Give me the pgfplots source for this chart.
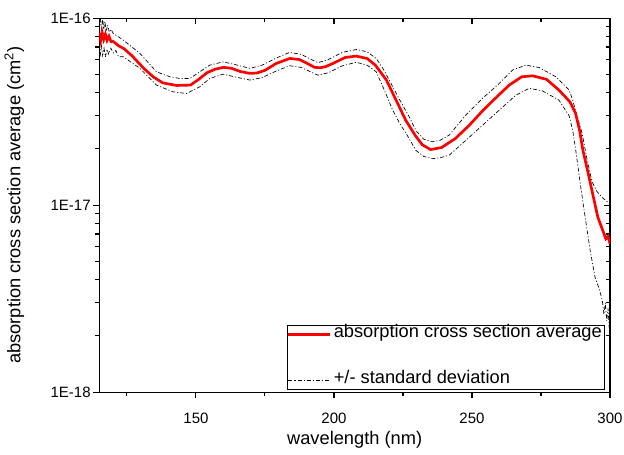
\documentclass[border=0pt]{standalone}
\usepackage{pgfplots}
\pgfplotsset{compat=1.18}
\usepackage{fontspec}
\setmainfont{Liberation Sans}
\begin{document}
\begin{tikzpicture}
\useasboundingbox (-74.5pt,-46.5pt) rectangle (393.5pt,294pt);
\begin{axis}[
  scale only axis, width=383pt, height=280.5pt,
  ymode=log, xmin=115, xmax=300, ymin=1e-18, ymax=1e-16,
  xtick={150,200,250,300}, minor xtick={125,175,225,275},
  ytick={1e-18,1e-17,1e-16},
  minor ytick={2e-18,3e-18,4e-18,5e-18,6e-18,7e-18,8e-18,9e-18,2e-17,3e-17,4e-17,5e-17,6e-17,7e-17,8e-17,9e-17},
  axis line style={line width=0.8pt},
  major tick length=4.5pt, minor tick length=3pt,
  every tick/.style={black, line width=0.8pt},
  tick align=inside, xtick pos=right, ytick pos=right,
  xticklabels={}, yticklabels={}]
\end{axis}
\begin{axis}[
  scale only axis, width=383pt, height=280.5pt,
  ymode=log, xmin=115, xmax=300, ymin=1e-18, ymax=1e-16,
  xtick={150,200,250,300}, minor xtick={125,175,225,275},
  ytick={1e-18,1e-17,1e-16},
  minor ytick={2e-18,3e-18,4e-18,5e-18,6e-18,7e-18,8e-18,9e-18,2e-17,3e-17,4e-17,5e-17,6e-17,7e-17,8e-17,9e-17},
  axis line style={line width=0.8pt},
  major tick length=4.5pt, minor tick length=3pt,
  every tick/.style={black, line width=0.8pt},
  tick align=outside, xtick pos=left, ytick pos=left,
  xticklabels={150,200,250,300},
  yticklabels={1E-18,1E-17,1E-16},
  ticklabel style={font=\fontsize{11.25}{13}\selectfont},
  xticklabel style={yshift=-7.5pt},
  yticklabel style={xshift=1.5pt},
  xlabel={wavelength (nm)},
  ylabel={absorption cross section average (cm\textsuperscript{2})},
  label style={font=\fontsize{13.7}{16}\selectfont},
  xlabel style={at={(axis description cs:0.5,-0.128)}, anchor=center},
  ylabel style={at={(axis description cs:-0.1664,0.5)}, anchor=center},
  legend cell align=left,
  reverse legend,
  legend style={at={(0.99,0.005)}, anchor=south east, draw=black, line width=0.6pt,
    font=\fontsize{13.7}{16}\selectfont, inner xsep=0pt, inner ysep=0pt, row sep=20.5pt,
    nodes={inner sep=2pt, text depth=0.25em, text height=0.75em}},
  legend image code/.code={\draw[#1] (0pt,0pt) -- (31pt,0pt);},
]
\addplot[black, line width=0.5pt, dash pattern=on 3pt off 1.5pt on 0.8pt off 1.5pt] table {
115 8.8e-17
115.4 9.9e-17
115.8 8.6e-17
116.2 1.0e-16
116.6 8.7e-17
117 9.6e-17
117.5 8.5e-17
118 9.2e-17
118.6 8.4e-17
119.3 8.7e-17
120 8.28e-17
123.7 7.62e-17
129.7 6.47e-17
135.7 5.16e-17
140.6 4.85e-17
144.2 4.75e-17
147.8 4.75e-17
151.4 5.16e-17
155 5.6e-17
159.8 5.83e-17
164 5.65e-17
169.5 5.38e-17
174 5.6e-17
179 6.1e-17
183.9 6.55e-17
188 6.4e-17
194.2 5.77e-17
198 6.0e-17
203 6.55e-17
208.1 6.79e-17
212 6.6e-17
215.3 6.08e-17
218 5.3e-17
221.3 4.29e-17
224.5 3.5e-17
227.3 2.96e-17
229.7 2.5e-17
232.5 2.25e-17
235.8 2.18e-17
238.5 2.22e-17
241.8 2.37e-17
247.8 3.03e-17
253.8 3.72e-17
259.9 4.47e-17
264.7 5.27e-17
269.5 5.6e-17
274.3 5.44e-17
280.4 4.85e-17
285.2 4.12e-17
286.5 3.64e-17
288 3.0e-17
289.9 2.42e-17
291.7 1.75e-17
293.5 1.33e-17
295.3 1.18e-17
297.1 1.10e-17
298.7 1.05e-17
300 1.02e-17
};
\addplot[black, line width=0.5pt, dash pattern=on 3pt off 1.5pt on 0.8pt off 1.5pt, forget plot] table {
115 7.3e-17
115.4 6.4e-17
115.8 7.1e-17
116.2 6.3e-17
116.7 6.9e-17
117.2 6.2e-17
117.8 6.8e-17
118.4 6.4e-17
119.2 6.9e-17
120.1 6.5e-17
121 6.7e-17
122 6.2e-17
123.7 6.21e-17
129.7 5.38e-17
135.7 4.38e-17
141.7 4.03e-17
146.6 3.95e-17
151.4 4.29e-17
155 4.75e-17
159.8 5.01e-17
164 4.85e-17
169.5 4.66e-17
174 4.8e-17
179 5.2e-17
183.9 5.56e-17
188 5.45e-17
194.2 4.95e-17
198 5.1e-17
203 5.55e-17
208.1 5.8e-17
212 5.6e-17
215.3 5.16e-17
218 4.2e-17
221.3 3.21e-17
224 2.7e-17
226.1 2.42e-17
229.7 1.96e-17
232.5 1.82e-17
235.8 1.77e-17
238.5 1.79e-17
241.8 1.85e-17
247.8 2.22e-17
253.8 2.67e-17
259.9 3.22e-17
265.9 3.87e-17
270.7 4.21e-17
275.5 4.08e-17
281.5 3.64e-17
285.2 3.0e-17
286.5 2.5e-17
287.6 1.96e-17
289.2 1.31e-17
291 8.6e-18
292.8 5.73e-18
294.6 4.1e-18
296 3.6e-18
297.2 3.1e-18
297.8 2.6e-18
298.3 3.0e-18
298.8 2.4e-18
299.3 2.8e-18
299.7 2.2e-18
300 2.5e-18
};
\addplot[red, line width=2pt] table {
115 8.3e-17
115.5 7.6e-17
116 8.4e-17
116.6 7.7e-17
117.2 8.2e-17
117.8 7.6e-17
118.5 8.0e-17
119.2 7.5e-17
120 7.5e-17
122 7.1e-17
124 6.85e-17
127 6.25e-17
131 5.4e-17
134.5 4.85e-17
138 4.5e-17
143 4.36e-17
148 4.38e-17
151 4.7e-17
154 5.1e-17
157 5.33e-17
160 5.45e-17
163 5.38e-17
166 5.18e-17
169.5 5.06e-17
172 5.08e-17
175 5.25e-17
179 5.71e-17
184 6.08e-17
187.5 6.0e-17
190 5.75e-17
193 5.45e-17
195 5.42e-17
197 5.5e-17
200 5.75e-17
204 6.15e-17
208 6.26e-17
212 6.08e-17
215 5.6e-17
219 4.66e-17
222.5 3.64e-17
226 2.84e-17
229.5 2.35e-17
232 2.1e-17
235 1.98e-17
239 2.03e-17
244 2.27e-17
249 2.67e-17
254 3.21e-17
259 3.79e-17
263.5 4.38e-17
268 4.85e-17
272 4.91e-17
277 4.7e-17
281.5 4.12e-17
285.5 3.56e-17
287.5 3.1e-17
289 2.5e-17
290.2 1.96e-17
292 1.5e-17
294 1.1e-17
295.6 8.6e-18
297.4 7.3e-18
298.5 6.6e-18
299.3 6.8e-18
300 6.2e-18
};
\legend{+/- standard deviation, absorption cross section average}
\end{axis}
\end{tikzpicture}
\end{document}
